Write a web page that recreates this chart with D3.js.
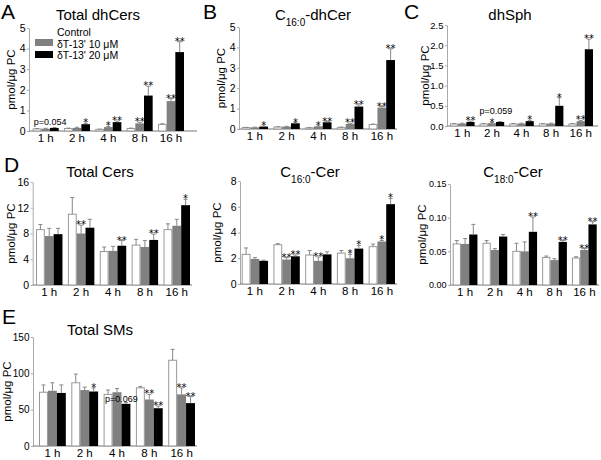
<!DOCTYPE html>
<html lang="en">
<head>
<meta charset="UTF-8">
<title>Sphingolipids after dT-13' treatment</title>
<script src="https://d3js.org/d3.v7.min.js"></script>
<style>
  html, body { margin: 0; padding: 0; background: #fff; overflow: hidden; }
  svg { font-family: "Liberation Sans", Arial, sans-serif; }
  text { fill: #000; }
  .star { font-family: "DejaVu Sans", sans-serif; }
</style>
</head>
<body>
<svg id="chart" width="601" height="460"></svg>
<script>
// time points and treatments
const timepoints = ["1 h", "2 h", "4 h", "8 h", "16 h"];
const treatments = ["Control", "\u03b4T-13' 10 \u03bcM", "\u03b4T-13' 20 \u03bcM"];
const barColors = ["#ffffff", "#808080", "#000000"];

// A - Total dhCers (rows = time point, cols = control / 10 uM / 20 uM)
const dhCersMean = [[0.10, 0.11, 0.15], [0.12, 0.15, 0.33], [0.08, 0.19, 0.43], [0.12, 0.37, 1.72], [0.32, 1.45, 3.83]];
const dhCersErr = [[0.02, 0.02, 0.02], [0.02, 0.03, 0.04], [0.01, 0.03, 0.05], [0.02, 0.05, 0.45], [0.03, 0.12, 0.50]];
const dhCersStars = [["", "", ""], ["", "", "*"], ["", "*", "**"], ["", "**", "**"], ["", "**", "**"]];

// B - C16:0-dhCer
const c16dhMean = [[0.07, 0.08, 0.12], [0.10, 0.12, 0.28], [0.06, 0.13, 0.33], [0.08, 0.25, 1.10], [0.22, 1.05, 3.38]];
const c16dhErr = [[0.01, 0.01, 0.02], [0.01, 0.01, 0.03], [0.01, 0.02, 0.03], [0.01, 0.03, 0.08], [0.02, 0.05, 0.55]];
const c16dhStars = [["", "", "*"], ["", "", "*"], ["", "*", "**"], ["", "**", "**"], ["", "**", "**"]];

// C - dhSph
const dhSphMean = [[0.05, 0.06, 0.10], [0.05, 0.07, 0.10], [0.05, 0.06, 0.12], [0.05, 0.06, 0.50], [0.05, 0.12, 1.90]];
const dhSphErr = [[0.01, 0.01, 0.02], [0.01, 0.01, 0.01], [0.01, 0.01, 0.02], [0.01, 0.01, 0.20], [0.01, 0.02, 0.25]];
const dhSphStars = [["", "", "**"], ["", "*", ""], ["", "", "*"], ["", "", "*"], ["", "**", "**"]];

// D - Total Cers
const cersMean = [[8.6, 7.6, 7.9], [11.0, 8.0, 8.9], [5.2, 5.3, 6.1], [6.2, 5.9, 7.0], [8.6, 9.2, 12.4]];
const cersErr = [[0.8, 1.2, 0.9], [2.6, 1.3, 1.3], [0.7, 0.7, 0.8], [0.9, 1.0, 0.9], [0.9, 1.0, 0.9]];
const cersStars = [["", "", ""], ["", "**", ""], ["", "", "**"], ["", "", "**"], ["", "", "*"]];

// D - C16:0-Cer
const c16Mean = [[2.3, 1.95, 1.8], [3.05, 1.9, 2.15], [2.25, 1.8, 2.3], [2.4, 2.0, 2.75], [2.9, 3.3, 6.2]];
const c16Err = [[0.5, 0.1, 0.05], [0.08, 0.15, 0.1], [0.35, 0.3, 0.2], [0.2, 0.3, 0.25], [0.2, 0.08, 0.45]];
const c16Stars = [["", "", ""], ["", "**", "**"], ["", "**", ""], ["", "*", "*"], ["", "*", "*"]];

// D - C18:0-Cer
const c18Mean = [[0.061, 0.061, 0.075], [0.062, 0.052, 0.072], [0.050, 0.050, 0.079], [0.041, 0.037, 0.064], [0.040, 0.052, 0.090]];
const c18Err = [[0.005, 0.008, 0.015], [0.004, 0.002, 0.003], [0.012, 0.014, 0.022], [0.002, 0.002, 0.002], [0.002, 0.002, 0.004]];
const c18Stars = [["", "", ""], ["", "", ""], ["", "", "**"], ["", "", "**"], ["", "**", "**"]];

// E - Total SMs
const smMean = [[74, 76, 73], [87, 77, 75], [71, 74, 58], [80, 64, 52], [118, 71, 59]];
const smErr = [[10, 11, 11], [12, 4, 5], [6, 5, 2], [2, 7, 3], [15, 9, 9]];
const smStars = [["", "", ""], ["", "", "*"], ["", "", ""], ["", "**", "**"], ["", "**", "**"]];

// p-value notes: [time point, value at text baseline, label]
const dhCersNote = ["1 h", 0.27, "p=0.054"];
const dhSphNote = ["2 h", 0.30, "p=0.059"];
const smNote = ["4 h", 61, "p=0.069"];

const svg = d3.select("#chart");

function drawPanel(cfg) {
    const g = svg.append("g");
    const x = d3.scaleBand().domain(timepoints).range([cfg.barStart, cfg.barEnd]).paddingInner(0.17);
    const xs = d3.scaleBand().domain([0, 1, 2]).range([0, x.bandwidth()]);
    const y = d3.scaleLinear().domain([0, cfg.yMax]).range([cfg.yBottom, cfg.yTop]);

    // y axis
    const ya = g.append("g")
        .attr("transform", `translate(${cfg.axisX},0)`)
        .call(d3.axisLeft(y).tickValues(cfg.ticks).tickFormat(d3.format(cfg.fmt)).tickSize(2).tickSizeOuter(0).tickPadding(1.5));
    ya.select(".domain").attr("stroke", "#aaa");
    ya.selectAll(".tick line").attr("stroke", "#aaa");
    ya.selectAll(".tick text").style("font-size", (cfg.tickFont || 10.5) + "px").attr("fill", "#000");

    // baseline and time labels
    g.append("line")
        .attr("x1", cfg.axisX).attr("x2", cfg.lineEnd)
        .attr("y1", cfg.yBottom).attr("y2", cfg.yBottom)
        .attr("stroke", "#777");
    const xa = g.append("g")
        .attr("transform", `translate(0,${cfg.yBottom})`)
        .call(d3.axisBottom(x).tickSize(0).tickPadding(3));
    xa.select(".domain").remove();
    xa.selectAll(".tick text").style("font-size", "11.5px").attr("fill", "#000");

    const rows = [];
    timepoints.forEach((t, i) => {
        for (let k = 0; k < 3; k++) {
            rows.push({t: t, k: k, v: cfg.mean[i][k], e: cfg.err[i][k], s: cfg.stars[i][k]});
        }
    });

    const bx = d => x(d.t) + xs(d.k);
    const bw = xs.bandwidth();

    g.selectAll(".bar").data(rows).enter().append("rect")
        .attr("x", d => bx(d) + (d.k === 0 ? 0.5 : 0))
        .attr("width", d => bw - (d.k === 0 ? 1 : 0))
        .attr("y", d => y(d.v))
        .attr("height", d => cfg.yBottom - y(d.v))
        .attr("fill", d => barColors[d.k])
        .attr("stroke", d => d.k === 0 ? "#999" : "none");

    // upper error bars
    const eb = g.selectAll(".err").data(rows).enter().append("g");
    eb.append("line")
        .attr("x1", d => bx(d) + bw / 2).attr("x2", d => bx(d) + bw / 2)
        .attr("y1", d => y(d.v)).attr("y2", d => y(d.v + d.e))
        .attr("stroke", "#888");
    eb.append("line")
        .attr("x1", d => bx(d) + bw / 2 - 2).attr("x2", d => bx(d) + bw / 2 + 2)
        .attr("y1", d => y(d.v + d.e)).attr("y2", d => y(d.v + d.e))
        .attr("stroke", "#888");

    // significance stars
    g.selectAll(".star").data(rows.filter(d => d.s)).enter().append("text")
        .attr("class", "star")
        .attr("x", d => bx(d) + bw / 2)
        .attr("y", d => y(d.v + d.e) + 3)
        .attr("text-anchor", "middle")
        .attr("fill", "#000")
        .style("font-size", "10px")
        .text(d => d.s);

    if (cfg.note) {
        g.append("text")
            .attr("x", x(cfg.note[0]) + xs(2))
            .attr("y", y(cfg.note[1]))
            .attr("text-anchor", "middle")
            .style("font-size", "9px")
            .text(cfg.note[2]);
    }

    // y label
    g.append("text")
        .attr("transform", `translate(${cfg.ylabX},${(cfg.yTop + cfg.yBottom) / 2}) rotate(-90)`)
        .attr("text-anchor", "middle")
        .style("font-size", "11.5px")
        .text("pmol/\u03bcg PC");

    // title (with optional subscript)
    const title = g.append("text")
        .attr("x", cfg.titleX).attr("y", cfg.titleY)
        .attr("text-anchor", "middle")
        .style("font-size", "15px");
    cfg.title.forEach(part => {
        const ts = title.append("tspan").text(part[0]);
        if (part[1]) ts.attr("baseline-shift", "sub").style("font-size", "10px");
    });

    if (cfg.letter) {
        g.append("text")
            .attr("x", cfg.letterX).attr("y", cfg.letterY)
            .style("font-size", "21px")
            .text(cfg.letter);
    }
    return g;
}

const gA = drawPanel({
    letter: "A", letterX: 1, letterY: 19,
    title: [["Total dhCers"]], titleX: 98, titleY: 20,
    axisX: 29, lineEnd: 197, barStart: 32.7, barEnd: 184,
    yTop: 28, yBottom: 131, yMax: 5, ticks: [0, 1, 2, 3, 4, 5], fmt: "d",
    ylabX: 15, mean: dhCersMean, err: dhCersErr, stars: dhCersStars, note: dhCersNote
});

// legend in panel A
const legend = gA.append("g");
treatments.forEach((name, k) => {
    if (k > 0) {
        legend.append("rect")
            .attr("x", 35).attr("y", 27 + k * 12)
            .attr("width", 18).attr("height", 7)
            .attr("fill", barColors[k]);
    }
    legend.append("text")
        .attr("x", 57).attr("y", 36 + k * 11.5)
        .style("font-size", "10.5px")
        .text(name);
});

drawPanel({
    letter: "B", letterX: 203, letterY: 19,
    title: [["C"], ["16:0", true], ["-dhCer"]], titleX: 313, titleY: 20,
    axisX: 239, lineEnd: 397, barStart: 241.7, barEnd: 395,
    yTop: 27, yBottom: 129, yMax: 5, ticks: [0, 1, 2, 3, 4, 5], fmt: "d",
    ylabX: 224.5, mean: c16dhMean, err: c16dhErr, stars: c16dhStars
});

drawPanel({
    letter: "C", letterX: 404, letterY: 19,
    title: [["dhSph"]], titleX: 510, titleY: 20,
    axisX: 447, lineEnd: 598, barStart: 450, barEnd: 593,
    yTop: 25, yBottom: 126, yMax: 2.5, ticks: [0, 0.5, 1, 1.5, 2, 2.5], fmt: ".1f", tickFont: 9.5,
    ylabX: 428.5, mean: dhSphMean, err: dhSphErr, stars: dhSphStars, note: dhSphNote
});

drawPanel({
    letter: "D", letterX: 4, letterY: 172,
    title: [["Total Cers"]], titleX: 100, titleY: 177,
    axisX: 32.7, lineEnd: 192, barStart: 36, barEnd: 190,
    yTop: 182, yBottom: 285, yMax: 16, ticks: [0, 4, 8, 12, 16], fmt: "d",
    ylabX: 14.5, mean: cersMean, err: cersErr, stars: cersStars
});

drawPanel({
    title: [["C"], ["16:0", true], ["-Cer"]], titleX: 310, titleY: 177,
    axisX: 240, lineEnd: 397, barStart: 241.7, barEnd: 395,
    yTop: 181, yBottom: 284, yMax: 8, ticks: [0, 2, 4, 6, 8], fmt: "d",
    ylabX: 221, mean: c16Mean, err: c16Err, stars: c16Stars
});

drawPanel({
    title: [["C"], ["18:0", true], ["-Cer"]], titleX: 513, titleY: 177,
    axisX: 450, lineEnd: 599, barStart: 452.7, barEnd: 596.7,
    yTop: 184, yBottom: 285, yMax: 0.15, ticks: [0, 0.05, 0.1, 0.15], fmt: ".2f", tickFont: 9,
    ylabX: 426, mean: c18Mean, err: c18Err, stars: c18Stars
});

drawPanel({
    letter: "E", letterX: 2, letterY: 324,
    title: [["Total SMs"]], titleX: 100, titleY: 335,
    axisX: 33, lineEnd: 197, barStart: 39, barEnd: 195,
    yTop: 337, yBottom: 446, yMax: 150, ticks: [0, 50, 100, 150], fmt: "d", tickFont: 10,
    ylabX: 10.5, mean: smMean, err: smErr, stars: smStars, note: smNote
});
</script>
</body>
</html>
